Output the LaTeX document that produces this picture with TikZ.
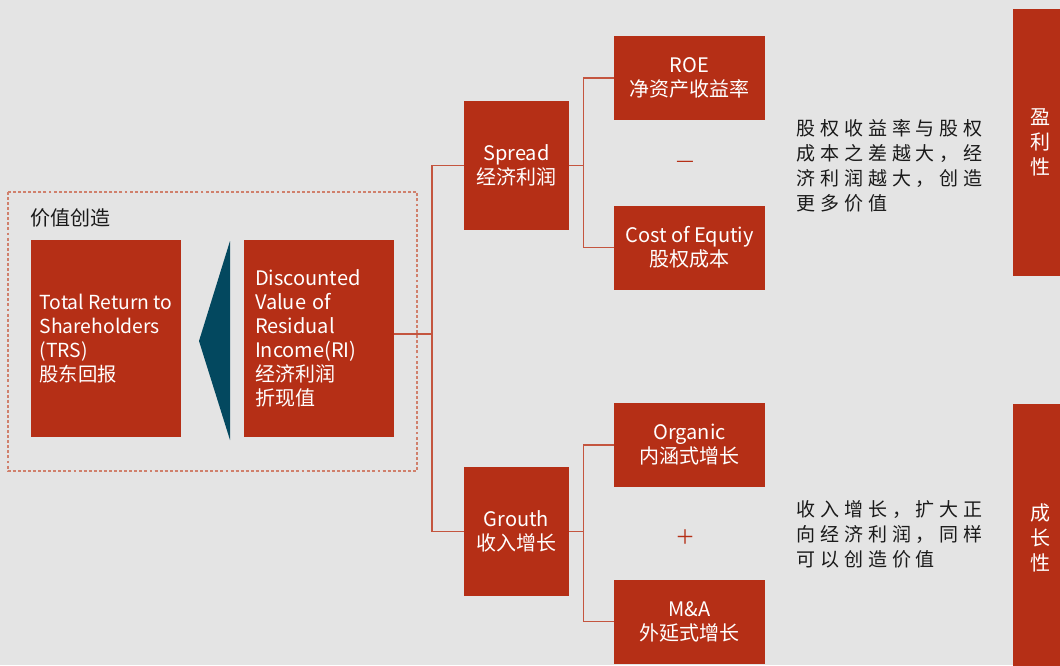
\documentclass[tikz,border=0pt]{standalone}
\usepackage{fontspec}
\setmainfont{Noto Sans CJK SC}
\newfontfamily\notefont[LetterSpace=26]{Noto Sans CJK SC}
\usetikzlibrary{positioning}
\definecolor{boxred}{HTML}{B52F16}
\definecolor{linkred}{HTML}{C4553F}
\definecolor{dashred}{HTML}{D0806C}
\definecolor{wedgeteal}{HTML}{03485F}
\definecolor{bggray}{HTML}{E4E4E4}
\definecolor{inkblack}{HTML}{1A1A1A}
\tikzset{
  redbox/.style={fill=boxred,text=white,inner sep=0pt,align=center,font=\fontsize{15}{18}\selectfont},
  tallbox/.style={redbox,minimum width=112.5pt,minimum height=147.75pt},
  midbox/.style={redbox,minimum width=78.75pt,minimum height=96.75pt},
  widebox/.style={redbox,minimum width=113.25pt,minimum height=63pt},
  sidebar/.style={redbox,minimum width=40.5pt,minimum height=200.25pt,font=\fontsize{15}{18.75}\selectfont},
  link/.style={linkred,line width=0.9pt},
  groupframe/.style={dashred,line width=0.9pt,dash pattern=on 2.2pt off 1.6pt},
  note/.style={inner sep=0pt,align=left,text=inkblack,font=\notefont\fontsize{14.25}{18.75}\selectfont},
  sign/.style={text=boxred,inner sep=0pt,font=\fontsize{15}{18}\selectfont}
}
\begin{document}
\begin{tikzpicture}[x=0.75pt,y=-0.75pt]
\useasboundingbox (0,0) rectangle (1060,665);
\fill[bggray] (0,0) rectangle (1060,665);
% value creation group
\draw[groupframe] (8,192) rectangle (417,471);
\node[anchor=west,inner sep=0pt,text=inkblack,font=\fontsize{15}{18}\selectfont] (grouptitle) at (30,218) {价值创造};
\node[tallbox,align=left,font=\fontsize{14.5}{18}\selectfont] (trs) at (106,338.5) {Total Return to\\Shareholders\\(TRS)\\股东回报};
\node[tallbox,text width=96pt,align=left] (dvri) at (319,338.5) {Discounted\\Value of\\Residual\\Income(RI)\\经济利润\\折现值};
\fill[wedgeteal] (230,241) -- (199,341) -- (230,440) -- cycle;
% drivers
\node[midbox] (spread) at (516.5,165.5) {Spread\\经济利润};
\node[midbox] (grouth) at (516.5,531.5) {Grouth\\收入增长};
\node[widebox] (roe) at (689.5,78) {ROE\\净资产收益率};
\node[widebox] (cost) at (689.5,247.5) {Cost of Equtiy\\股权成本};
\node[widebox] (organic) at (689.5,445) {Organic\\内涵式增长};
\node[widebox] (ma) at (689.5,621.5) {M\&A\\外延式增长};
\node[sign] (minus) at (685,164) {—};
\node[sign] (plus) at (685,537) {＋};
% connectors
\coordinate (fork) at (432,334);
\draw[link] (dvri.east |- fork) -- (fork) |- (spread.west);
\draw[link] (fork) |- (grouth.west);
\draw[link] (spread.east) -- ++(14,0) coordinate (sfork) |- (roe.west);
\draw[link] (sfork) |- (cost.west);
\draw[link] (grouth.east) -- ++(14,0) coordinate (gfork) |- (organic.west);
\draw[link] (gfork) |- (ma.west);
% notes and side bars
\node[note,anchor=north west] (note1) at (796,119) {股权收益率与股权\\成本之差越大，经\\济利润越大，创造\\更多价值};
\node[note,anchor=north west] (note2) at (796,500) {收入增长，扩大正\\向经济利润，同样\\可以创造价值};
\node[sidebar] (profit) at (1040,142.5) {盈\\利\\性};
\node[sidebar] (growth) at (1040,537.5) {成\\长\\性};
\end{tikzpicture}
\end{document}
